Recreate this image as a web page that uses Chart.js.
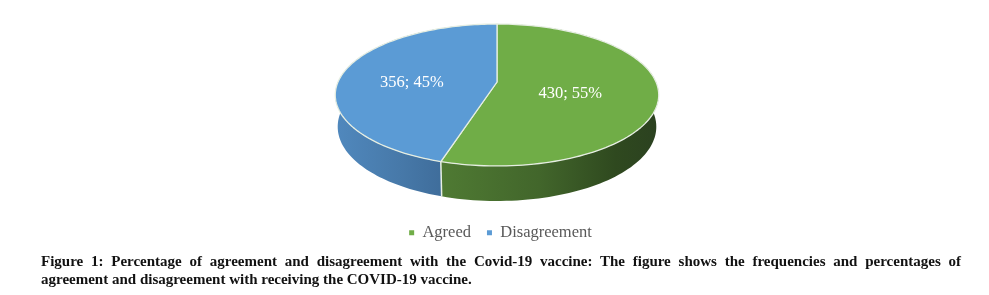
<!DOCTYPE html>
<html>
<head>
<meta charset="utf-8">
<title>Figure 1</title>
<script src="https://cdn.jsdelivr.net/npm/chart.js@4"></script>
<style>
  html, body { margin: 0; padding: 0; background: #fff; width: 989px; height: 295px; overflow: hidden; }
  #myChart { position: absolute; left: 0; top: 0; }
  #caption {
    position: absolute; left: 41px; top: 252px; width: 920px; margin: 0;
    font: bold 15px/18px "Liberation Serif", serif; color: #111;
  }
  #caption span { display: block; white-space: nowrap; }
  #caption .first { white-space: normal; text-align: justify; text-align-last: justify; }
</style>
</head>
<body>
<canvas id="myChart" width="989" height="255"></canvas>
<p id="caption">
  <span class="first">Figure 1: Percentage of agreement and disagreement with the Covid-19 vaccine: The figure shows the frequencies and percentages of</span>
  <span>agreement and disagreement with receiving the COVID-19 vaccine.</span>
</p>
<script>
const categories = ["Agreed", "Disagreement"];
const frequencies = [430, 356];
const percentages = [55, 45];
const topColors = ["#70ad47", "#5b9bd5"];

// side wall shading, left to right
const wallStops = [
  [[0, "#4f7a33"], [0.45, "#42662b"], [0.8, "#2f491f"], [1, "#2b4120"]],
  [[0, "#5088bd"], [0.6, "#4779a9"], [1, "#3f6d9b"]],
];

// how far out each label sits on its slice
const labelRadius = [0.46, 0.55];

// the tilted disc has a perspective look, so the centre is not the middle of the ellipse
const apexX = 497, apexY = 82;
const spreadX = 159, spreadY = 68.6, tilt = -0.183;

function project(angle, r) {
  // chart.js angles start at the top once rotated by -90deg
  const u = Math.cos(angle) * r;
  const v = Math.sin(angle) * r;
  const w = 1 + tilt * v;
  return { x: apexX + spreadX * u / w, y: apexY + spreadY * v / w, v: v };
}

function lower(p) {
  return { x: apexX + (p.x - apexX) * 0.985, y: p.y + 31 + 4 * p.v };
}

function sampleArc(start, end) {
  const pts = [];
  const n = 120;
  for (let i = 0; i <= n; i++) pts.push(project(start + (end - start) * i / n, 1));
  return pts;
}

const tiltedPie = {
  id: "tiltedPie",
  beforeDatasetsDraw(chart) {
    const ctx = chart.ctx;
    const arcs = chart.getDatasetMeta(0).data;
    ctx.save();

    // walls first, the top surface covers what is behind
    arcs.forEach((arc, i) => {
      const rim = sampleArc(arc.startAngle, arc.endAngle);
      const grad = ctx.createLinearGradient(i == 0 ? 441 : 336, 0, i == 0 ? 659 : 442, 0);
      wallStops[i].forEach(s => grad.addColorStop(s[0], s[1]));
      ctx.beginPath();
      rim.forEach((p, k) => k ? ctx.lineTo(p.x, p.y) : ctx.moveTo(p.x, p.y));
      rim.slice().reverse().forEach(p => { const q = lower(p); ctx.lineTo(q.x, q.y); });
      ctx.closePath();
      ctx.fillStyle = grad;
      ctx.fill();
    });

    // seam between both walls at the front
    const seam = project(arcs[0].endAngle, 1);
    const seamLow = lower(seam);
    ctx.beginPath();
    ctx.moveTo(seam.x, seam.y);
    ctx.lineTo(seamLow.x, seamLow.y);
    ctx.strokeStyle = "#e8efe4";
    ctx.lineWidth = 1.5;
    ctx.stroke();

    arcs.forEach((arc, i) => {
      const rim = sampleArc(arc.startAngle, arc.endAngle);
      ctx.beginPath();
      ctx.moveTo(apexX, apexY);
      rim.forEach(p => ctx.lineTo(p.x, p.y));
      ctx.closePath();
      ctx.fillStyle = topColors[i];
      ctx.fill();
      ctx.strokeStyle = "#e6eee2";
      ctx.lineWidth = 1.3;
      ctx.lineJoin = "round";
      ctx.stroke();
    });

    ctx.fillStyle = "#fff";
    ctx.font = '16.5px "Liberation Serif", serif';
    ctx.textAlign = "center";
    ctx.textBaseline = "middle";
    arcs.forEach((arc, i) => {
      const mid = (arc.startAngle + arc.endAngle) / 2;
      const p = project(mid, labelRadius[i]);
      ctx.fillText(frequencies[i] + "; " + percentages[i] + "%", p.x, p.y + 6.5);
    });

    ctx.restore();
    return false; // the flat pie is replaced by the drawing above
  },
};

var myChart = new Chart(document.getElementById("myChart"), {
  type: "pie",
  data: {
    labels: categories,
    datasets: [{ data: frequencies, backgroundColor: topColors, borderWidth: 0 }],
  },
  options: {
    responsive: false,
    animation: false,
    layout: { padding: { left: 12, bottom: 4 } },
    plugins: {
      tooltip: { enabled: false },
      legend: {
        position: "bottom",
        labels: {
          boxWidth: 5,
          boxHeight: 5,
          padding: 16,
          color: "#595959",
          font: { family: '"Liberation Serif", serif', size: 16.5 },
        },
      },
    },
  },
  plugins: [tiltedPie],
});
</script>
</body>
</html>
